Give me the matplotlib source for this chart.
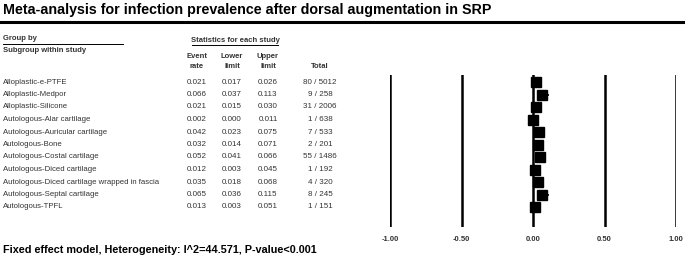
import matplotlib
matplotlib.use("Agg")
import matplotlib.pyplot as plt

plt.rcParams['font.family'] = ['Liberation Sans', 'DejaVu Sans']

# data
subgroups = ["Alloplastic-e-PTFE", "Alloplastic-Medpor", "Alloplastic-Silicone",
             "Autologous-Alar cartilage", "Autologous-Auricular cartilage",
             "Autologous-Bone", "Autologous-Costal cartilage",
             "Autologous-Diced cartilage",
             "Autologous-Diced cartilage wrapped in fascia",
             "Autologous-Septal cartilage", "Autologous-TPFL"]
event_rate = [0.021, 0.066, 0.021, 0.002, 0.042, 0.032, 0.052, 0.012, 0.035, 0.065, 0.013]
lower = [0.017, 0.037, 0.015, 0.000, 0.023, 0.014, 0.041, 0.003, 0.018, 0.036, 0.003]
upper = [0.026, 0.113, 0.030, 0.011, 0.075, 0.071, 0.066, 0.045, 0.068, 0.115, 0.051]
totals = ["80 / 5012", "9 / 258", "31 / 2006", "1 / 638", "7 / 533", "2 / 201",
          "55 / 1486", "1 / 192", "4 / 320", "8 / 245", "1 / 151"]
ticks = [-1.0, -0.5, 0.0, 0.5, 1.0]

title = "Meta-analysis for infection prevalence after dorsal augmentation in SRP"
footer = "Fixed effect model, Heterogeneity: I^2=44.571, P-value<0.001"

W, H = 685, 264
fig = plt.figure(figsize=(W / 100, H / 100), dpi=100)

# background axes in pixel coordinates for the table
bg = fig.add_axes([0, 0, 1, 1])
bg.set_xlim(0, W)
bg.set_ylim(H, 0)
bg.axis("off")

txt = "#333333"
bg.text(3, 10, title, fontsize=10.3, fontweight="bold", va="center", ha="left")
bg.plot([0, W], [22, 22], color="black", lw=2.2)

bg.text(3, 39, "Group by", fontsize=5.5, fontweight="bold", va="center", color=txt)
bg.plot([3, 123], [44, 44], color="black", lw=0.7)
bg.text(3, 50, "Subgroup within study", fontsize=5.5, fontweight="bold", va="center", color=txt)

bg.text(235, 40, "Statistics for each study", fontsize=5.5, fontweight="bold",
        va="center", ha="center", color=txt)
bg.plot([192, 278], [45, 45], color="black", lw=0.7)

cols = [197, 232, 268, 320]
bg.text(cols[0], 56, "Event", fontsize=5.5, fontweight="bold", ha="center", va="center", color=txt)
bg.text(cols[0], 66, "rate", fontsize=5.5, fontweight="bold", ha="center", va="center", color=txt)
bg.text(cols[1], 56, "Lower", fontsize=5.5, fontweight="bold", ha="center", va="center", color=txt)
bg.text(cols[1], 66, "limit", fontsize=5.5, fontweight="bold", ha="center", va="center", color=txt)
bg.text(cols[2], 56, "Upper", fontsize=5.5, fontweight="bold", ha="center", va="center", color=txt)
bg.text(cols[2], 66, "limit", fontsize=5.5, fontweight="bold", ha="center", va="center", color=txt)
bg.text(cols[3], 66, "Total", fontsize=5.5, fontweight="bold", ha="center", va="center", color=txt)

row0, step = 82, 12.5
for i, name in enumerate(subgroups):
    y = row0 + step * i
    bg.text(3, y, name, fontsize=5.6, va="center", color=txt)
    bg.text(cols[0], y, f"{event_rate[i]:.3f}", fontsize=5.8, ha="center", va="center", color=txt)
    bg.text(cols[1], y, f"{lower[i]:.3f}", fontsize=5.8, ha="center", va="center", color=txt)
    bg.text(cols[2], y, f"{upper[i]:.3f}", fontsize=5.8, ha="center", va="center", color=txt)
    bg.text(cols[3], y, totals[i], fontsize=5.8, ha="center", va="center", color=txt)

bg.text(3, 250, footer, fontsize=7.8, fontweight="bold", va="center", ha="left")

# forest plot
zero_px, unit_px = 533, 143
top_px, bot_px = 75, 227
ax = fig.add_axes([(zero_px - unit_px) / W, 1 - bot_px / H,
                   2 * unit_px / W, (bot_px - top_px) / H])
ax.set_xlim(-1, 1)
ax.set_ylim((bot_px - row0) / step, (top_px - row0) / step)
for t in ticks:
    ax.axvline(t, color="black", lw=1.8)
rows = list(range(len(subgroups)))
ax.hlines(rows, lower, upper, color="black", lw=1.2)
ax.plot(event_rate, rows, "s", color="black", markersize=7)
for s in ax.spines.values():
    s.set_visible(False)
ax.set_yticks([])
ax.set_xticks(ticks)
ax.set_xticklabels([f"{t:.2f}" for t in ticks], fontsize=5.5, fontweight="bold", color=txt)
ax.tick_params(axis="x", length=0, pad=6.5)
ax.patch.set_alpha(0)

fig.savefig("out.png", dpi=100)
